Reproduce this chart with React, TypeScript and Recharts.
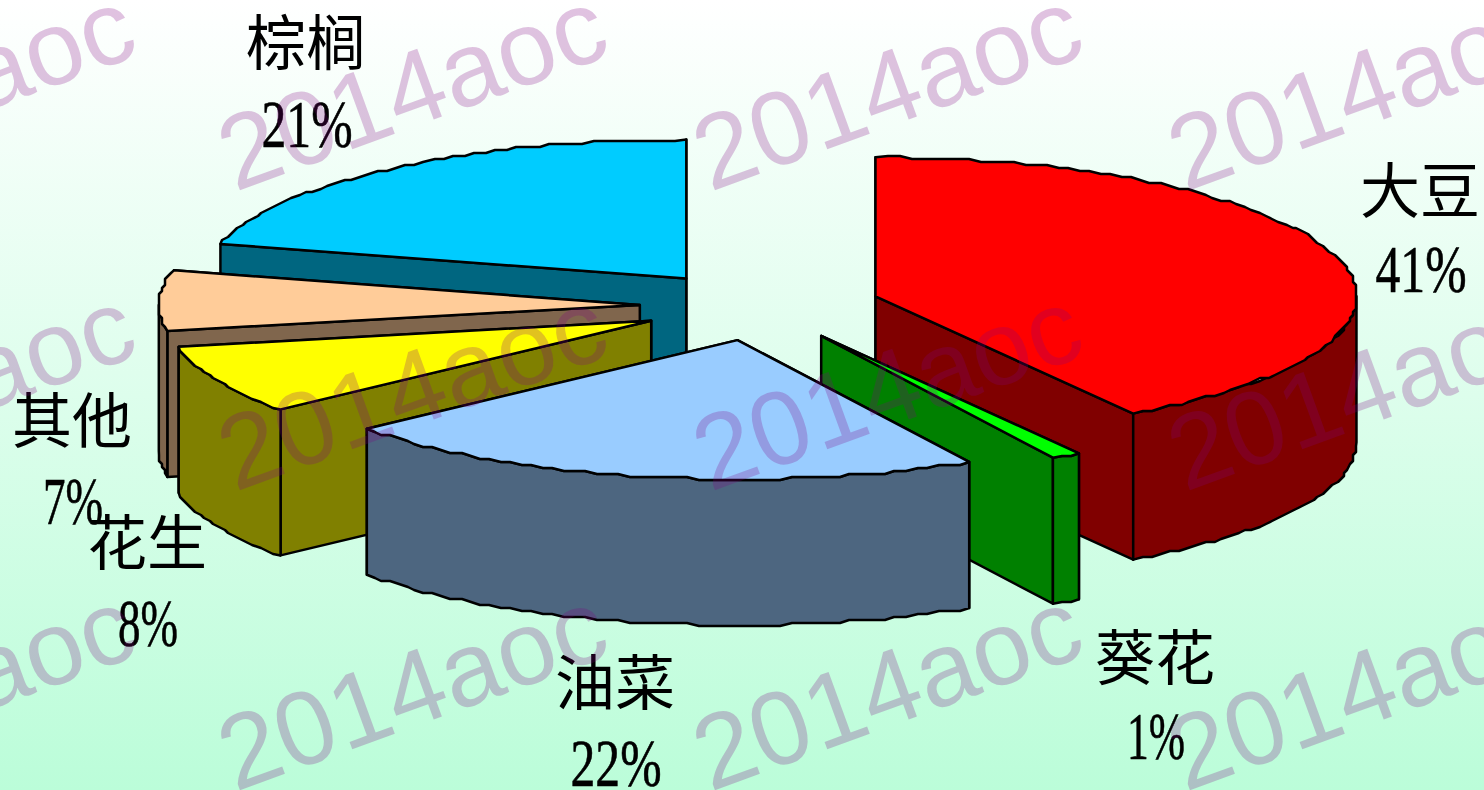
import React from 'react';
import { PieChart, Pie } from 'recharts';

const crops = ['大豆', '葵花', '油菜', '花生', '其他', '棕榈'];
const shares = [41, 1, 22, 8, 7, 21];

const topColors = ['#FF0000', '#00FF00', '#99CCFF', '#FFFF00', '#FFCC99', '#00CCFF'];
const sideColors = ['#800000', '#008000', '#4D6680', '#808000', '#80664D', '#006680'];

// back slices first, the front slice last
const paintOrder = [0, 1, 5, 4, 3, 2];

// centre x and the baselines of the name and the percent line
const labelX = [1420, 1155, 615, 147, 72, 306];
const nameBaseline = [213, 680, 705, 565, 443, 65];
const percentBaseline = [292, 759, 786, 646, 524, 147];
const percentWidth = [91, 58, 91, 60, 60, 91];

const watermarkColumns = [-237, 235, 710, 1185];
const watermarkRows = [192, 492, 792];

const WIDTH = 1484;
const HEIGHT = 790;
const CX = 760;
const CY = 306;
const RX = 481;
const RY = 139;
const DEPTH = 146;
const EXPLODE = 0.25;
const SNAP = 3;
const RIM_STEP = 1.4;

const pieData = crops.map((name, i) => ({ name, value: shares[i] }));

const rad = (deg: number) => (deg * Math.PI) / 180;
const snap = (v: number) => Math.round(v / SNAP) * SNAP;

// the rim is a rough polyline: inner points sit on a coarse grid, the two ends stay exact
function rimPoints(ax: number, ay: number, from: number, to: number, rx: number, ry: number) {
  const pts: [number, number][] = [];
  const steps = Math.max(2, Math.ceil((to - from) / RIM_STEP));
  for (let i = 0; i <= steps; i++) {
    const t = rad(from + ((to - from) * i) / steps);
    const x = ax + rx * Math.sin(t);
    const y = ay - ry * Math.cos(t);
    const isEnd = i === 0 || i === steps;
    pts.push(isEnd ? [x, y] : [snap(x), snap(y)]);
  }
  return pts;
}

const toPath = (pts: [number, number][]) =>
  'M' + pts.map((p) => `${p[0]},${p[1]}`).join('L') + 'Z';

const Slice3D = (props: any) => {
  const { cx, cy, outerRadius, startAngle, endAngle, index } = props;
  const rx = outerRadius;
  const ry = outerRadius * (RY / RX);
  const from = 90 - startAngle;
  const to = 90 - endAngle;
  const mid = rad((from + to) / 2);
  const ax = cx + EXPLODE * rx * Math.sin(mid);
  const ay = cy - EXPLODE * ry * Math.cos(mid);
  const rim = rimPoints(ax, ay, from, to, rx, ry);
  const first = rim[0];
  const last = rim[rim.length - 1];

  const radial = (p: [number, number]): [number, number][] => [
    [ax, ay],
    p,
    [p[0], p[1] + DEPTH],
    [ax, ay + DEPTH],
  ];
  const faces = [first, last].sort((a, b) => a[1] - b[1]).map(radial);

  // only the near half of the rim can be seen
  const rimFrom = Math.max(from, 90);
  const rimTo = Math.min(to, 270);
  let wall: string | null = null;
  if (rimTo > rimFrom) {
    const upper = rimPoints(ax, ay, rimFrom, rimTo, rx, ry);
    const lower = upper.map((p) => [p[0], p[1] + DEPTH] as [number, number]).reverse();
    wall = toPath([...upper, ...lower]);
  }

  const common = { stroke: '#000', strokeWidth: 2.5, strokeLinejoin: 'round' as const };
  return (
    <g>
      {faces.map((f, i) => (
        <path key={i} d={toPath(f)} fill={sideColors[index]} {...common} />
      ))}
      {wall && <path d={wall} fill={sideColors[index]} {...common} />}
      <path d={toPath([[ax, ay], ...rim])} fill={topColors[index]} {...common} />
    </g>
  );
};

const renderLabel = (props: any) => {
  const { index, value, name } = props;
  return (
    <g fill="#000">
      <text
        x={labelX[index]}
        y={nameBaseline[index]}
        textAnchor="middle"
        fontSize={60}
        fontFamily="'Noto Sans CJK SC'"
      >
        {name}
      </text>
      <text
        x={labelX[index] - percentWidth[index] / 2 + 1}
        y={percentBaseline[index]}
        fontSize={68}
        fontFamily="'Liberation Serif'"
        stroke="#000"
        strokeWidth={0.6}
        textLength={percentWidth[index]}
        lengthAdjust="spacingAndGlyphs"
      >
        {value}%
      </text>
    </g>
  );
};

const Watermark = () => (
  <svg width={WIDTH} height={HEIGHT} style={{ position: 'absolute', left: 0, top: 0, pointerEvents: 'none' }}>
    {watermarkRows.map((y) =>
      watermarkColumns.map((x) => (
        <text
          key={`${x}-${y}`}
          x={x}
          y={y}
          transform={`rotate(-20 ${x} ${y})`}
          fontSize={105}
          fontFamily="'Liberation Sans'"
          fill="rgba(128,0,128,0.24)"
        >
          2014aoc
        </text>
      )),
    )}
  </svg>
);

export default function App() {
  return (
    <div
      style={{
        position: 'absolute',
        left: 0,
        top: 0,
        width: WIDTH,
        height: HEIGHT,
        overflow: 'hidden',
        background: 'linear-gradient(#FFFFFF, #BBFDD9)',
      }}
    >
      <PieChart width={WIDTH} height={HEIGHT} margin={{ top: 0, right: 0, bottom: 0, left: 0 }}>
        {paintOrder.map((sliceIndex, i) => (
          <Pie
            key={sliceIndex}
            data={pieData}
            dataKey="value"
            nameKey="name"
            cx={CX}
            cy={CY}
            outerRadius={RX}
            startAngle={90}
            endAngle={-270}
            stroke="none"
            isAnimationActive={false}
            labelLine={false}
            label={i === paintOrder.length - 1 ? renderLabel : false}
            shape={(p: any) => (p.index === sliceIndex ? <Slice3D {...p} /> : <g />)}
          />
        ))}
      </PieChart>
      <Watermark />
    </div>
  );
}
